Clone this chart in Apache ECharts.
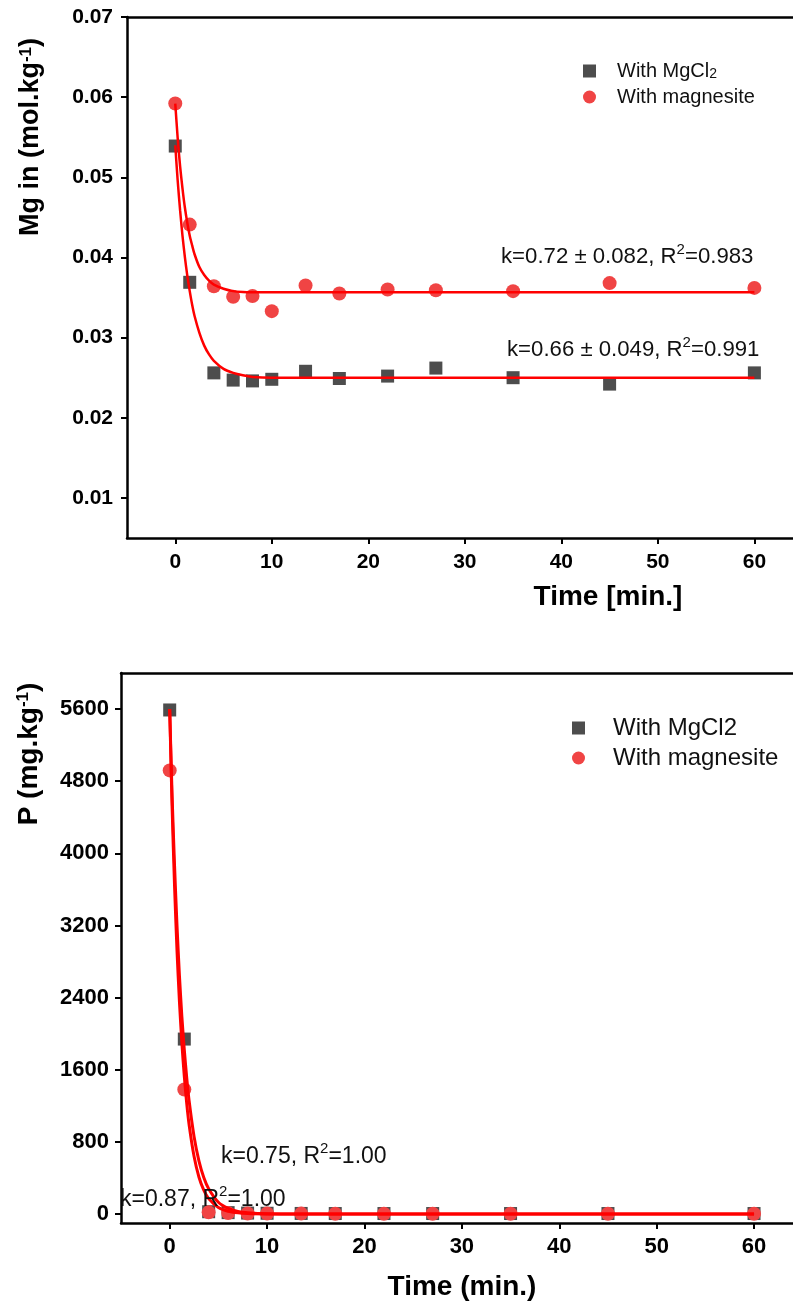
<!DOCTYPE html>
<html><head><meta charset="utf-8">
<script src="https://cdn.jsdelivr.net/npm/echarts@6/dist/echarts.min.js"></script>
<style>html,body{margin:0;padding:0;background:#fff}#c{width:793px;height:1306px}</style>
</head><body><div id="c"></div>
<script>
// ---------- data ----------
const times = [0, 1.5, 4, 6, 8, 10, 13.5, 17, 22, 27, 35, 45, 60];
const mgWithMgCl2 = [0.0539, 0.0369, 0.0256, 0.0247, 0.0246, 0.0248, 0.0258, 0.0249, 0.0252, 0.0262, 0.0250, 0.0242, 0.0256];
const mgWithMagnesite = [0.0592, 0.0441, 0.0364, 0.0351, 0.0352, 0.0333, 0.0365, 0.0355, 0.0360, 0.0359, 0.0358, 0.0368, 0.0362];
const pWithMgCl2 = [5590, 1940, 25, 15, 10, 8, 6, 5, 5, 5, 5, 5, 5];
const pWithMagnesite = [4920, 1380, 18, 10, 6, 5, 4, 3, 3, 3, 3, 3, 3];

// fitted curves
const fitTimes = [0, 0.25, 0.5, 0.75, 1, 1.25, 1.5, 1.75, 2, 2.5, 3, 3.5, 4, 5, 6, 7, 8, 10, 15, 60];
const mgFitMgCl2 = [0.0540, 0.0496, 0.0459, 0.0427, 0.0400, 0.0377, 0.0358, 0.0341, 0.0327, 0.0306, 0.0290, 0.0279, 0.0271, 0.0261, 0.0256, 0.0253, 0.0251, 0.0250, 0.0250, 0.0250];
const mgFitMagnesite = [0.0592, 0.0549, 0.0514, 0.0486, 0.0462, 0.0443, 0.0427, 0.0415, 0.0404, 0.0388, 0.0378, 0.0371, 0.0366, 0.0361, 0.0358, 0.0357, 0.03567, 0.03565, 0.03565, 0.03565];
const pFitMgCl2 = [5600, 4630, 3860, 3200, 2645, 2190, 1820, 1510, 1250, 860, 590, 405, 280, 130, 62, 29, 14, 3, 0, 0];
const pFitMagnesite = [5600, 4500, 3630, 2920, 2355, 1895, 1525, 1225, 985, 640, 410, 265, 170, 72, 30, 13, 5, 1, 0, 0];

const xTickLabels = ['0', '10', '20', '30', '40', '50', '60'];
const mgTickLabels = ['0.01', '0.02', '0.03', '0.04', '0.05', '0.06', '0.07'];
const pTickLabels = ['0', '800', '1600', '2400', '3200', '4000', '4800', '5600'];

// ---------- styling ----------
const FONT = '"Liberation Sans", Arial, sans-serif';
const SQ = '#4d4d4d';
const CI = '#f04444';
const FIT = '#ff0000';

const xTicks = xTickLabels.map(Number);
const mgTicks = mgTickLabels.map(Number);
const pTicks = pTickLabels.map(Number);

const axisLine = { show: true, onZero: false, lineStyle: { color: '#000', width: 2.5 } };

function xBottom(gi, fs, margin) {
  return {
    type: 'value', gridIndex: gi, min: -5, max: 64, position: 'bottom',
    axisLine: axisLine,
    axisTick: { show: true, customValues: xTicks, length: 6, lineStyle: { color: '#000', width: 2 } },
    axisLabel: { customValues: xTicks, formatter: v => String(v), color: '#000', fontSize: fs, fontWeight: 'bold', fontFamily: FONT, margin: margin },
    splitLine: { show: false }
  };
}
function xTop(gi) {
  return {
    type: 'value', gridIndex: gi, min: -5, max: 64, position: 'top',
    axisLine: axisLine, axisTick: { show: false }, axisLabel: { show: false }, splitLine: { show: false }
  };
}

const pair = (xs, ys) => xs.map((x, i) => [x, ys[i]]);

function scatter(name, xi, yi, xs, ys, symbol, color, size) {
  return { type: 'scatter', name: name, xAxisIndex: xi, yAxisIndex: yi, data: pair(xs, ys),
    symbol: symbol, symbolSize: size, itemStyle: { color: color, opacity: 1 }, z: 2 };
}
function fit(xi, yi, ys, w) {
  return { type: 'line', xAxisIndex: xi, yAxisIndex: yi, data: pair(fitTimes, ys),
    symbol: 'none', showSymbol: false, smooth: 0.25,
    lineStyle: { color: FIT, width: w }, z: 3, silent: true };
}

const legendNames = {
  'mgcl2_mg': 'With MgCl{sub|2}',
  'magn_mg': 'With magnesite',
  'mgcl2_p': 'With MgCl2',
  'magn_p': 'With magnesite'
};

function annot(x, y, k, r2, fs, sfs) {
  return { type: 'text', x: x, y: y, z: 10,
    style: { text: '{t|k=' + k + ', R}{s|2}{t|=' + r2 + '}', align: 'left', verticalAlign: 'middle',
      rich: { t: { fontSize: fs, fontFamily: FONT, fill: '#111', lineHeight: fs + 4, verticalAlign: 'bottom' },
              s: { fontSize: sfs, fontFamily: FONT, fill: '#111', lineHeight: sfs, verticalAlign: 'top' } } } };
}

const chart = echarts.init(document.getElementById('c'), null, { renderer: 'canvas' });
chart.setOption({
  animation: false,
  backgroundColor: '#fff',
  grid: [
    { left: 127, right: 0, top: 17, height: 521, outerBoundsMode: 'none', containLabel: false },
    { left: 121, right: 0, top: 673, height: 550, outerBoundsMode: 'none', containLabel: false }
  ],
  xAxis: [xBottom(0, 21, 14), xTop(0), xBottom(1, 22, 13), xTop(1)],
  yAxis: [
    { type: 'value', gridIndex: 0, min: 0.005, max: 0.07,
      axisLine: axisLine,
      axisTick: { show: true, customValues: mgTicks, length: 6, lineStyle: { color: '#000', width: 2 } },
      axisLabel: { customValues: mgTicks, formatter: v => v.toFixed(2), color: '#000', fontSize: 21, fontWeight: 'bold', fontFamily: FONT, margin: 14 },
      splitLine: { show: false } },
    { type: 'value', gridIndex: 1, min: -100, max: 6000,
      axisLine: axisLine,
      axisTick: { show: true, customValues: pTicks, length: 6, lineStyle: { color: '#000', width: 2 } },
      axisLabel: { customValues: pTicks, formatter: v => String(v), color: '#000', fontSize: 22, fontWeight: 'bold', fontFamily: FONT, margin: 12 },
      splitLine: { show: false } }
  ],
  legend: [
    { orient: 'vertical', left: 583, top: 61, padding: 0, itemWidth: 13, itemHeight: 13, itemGap: 6,
      data: [{ name: 'mgcl2_mg', icon: 'rect' }, { name: 'magn_mg', icon: 'circle' }],
      formatter: n => legendNames[n],
      textStyle: { color: '#111', fontSize: 20, fontFamily: FONT, lineHeight: 20, padding: [0, 0, 0, 16],
        rich: { sub: { fontSize: 14, fontFamily: FONT, color: '#111', verticalAlign: 'bottom', padding: [10, 0, 0, 0] } } },
      selectedMode: false },
    { orient: 'vertical', left: 572, top: 716, padding: 0, itemWidth: 13, itemHeight: 13, itemGap: 6,
      data: [{ name: 'mgcl2_p', icon: 'rect' }, { name: 'magn_p', icon: 'circle' }],
      formatter: n => legendNames[n],
      textStyle: { color: '#111', fontSize: 24, fontFamily: FONT, lineHeight: 24, padding: [0, 0, 0, 23] },
      selectedMode: false }
  ],
  series: [
    scatter('mgcl2_mg', 0, 0, times, mgWithMgCl2, 'rect', SQ, 13),
    scatter('magn_mg', 0, 0, times, mgWithMagnesite, 'circle', CI, 14),
    fit(0, 0, mgFitMgCl2, 2.5),
    fit(0, 0, mgFitMagnesite, 2.5),
    scatter('mgcl2_p', 2, 1, times, pWithMgCl2, 'rect', SQ, 13),
    scatter('magn_p', 2, 1, times, pWithMagnesite, 'circle', CI, 14),
    fit(2, 1, pFitMgCl2, 3),
    fit(2, 1, pFitMagnesite, 3)
  ],
  graphic: [
    { type: 'text', x: 31, y: 137, rotation: Math.PI / 2,
      style: { text: '{b|Mg in (mol.kg}{s|-1}{b|)}', align: 'center', verticalAlign: 'middle',
        rich: { b: { fontSize: 27, fontWeight: 'bold', fontFamily: FONT, fill: '#000' },
                s: { fontSize: 17, fontWeight: 'bold', fontFamily: FONT, fill: '#000', verticalAlign: 'top' } } } },
    { type: 'text', x: 608, y: 597,
      style: { text: 'Time [min.]', align: 'center', verticalAlign: 'middle', fontSize: 28, fontWeight: 'bold', fontFamily: FONT, fill: '#000' } },
    { type: 'text', x: 29, y: 754, rotation: Math.PI / 2,
      style: { text: '{b|P (mg.kg}{s|-1}{b|)}', align: 'center', verticalAlign: 'middle',
        rich: { b: { fontSize: 28, fontWeight: 'bold', fontFamily: FONT, fill: '#000' },
                s: { fontSize: 17, fontWeight: 'bold', fontFamily: FONT, fill: '#000', verticalAlign: 'top' } } } },
    { type: 'text', x: 462, y: 1287,
      style: { text: 'Time (min.)', align: 'center', verticalAlign: 'middle', fontSize: 28, fontWeight: 'bold', fontFamily: FONT, fill: '#000' } },
    annot(501, 255, '0.72 ± 0.082', '0.983', 22.2, 15),
    annot(507, 348, '0.66 ± 0.049', '0.991', 22.2, 15),
    annot(221, 1155, '0.75', '1.00', 23, 15),
    annot(120, 1198, '0.87', '1.00', 23, 15)
  ]
});
</script>
</body></html>
